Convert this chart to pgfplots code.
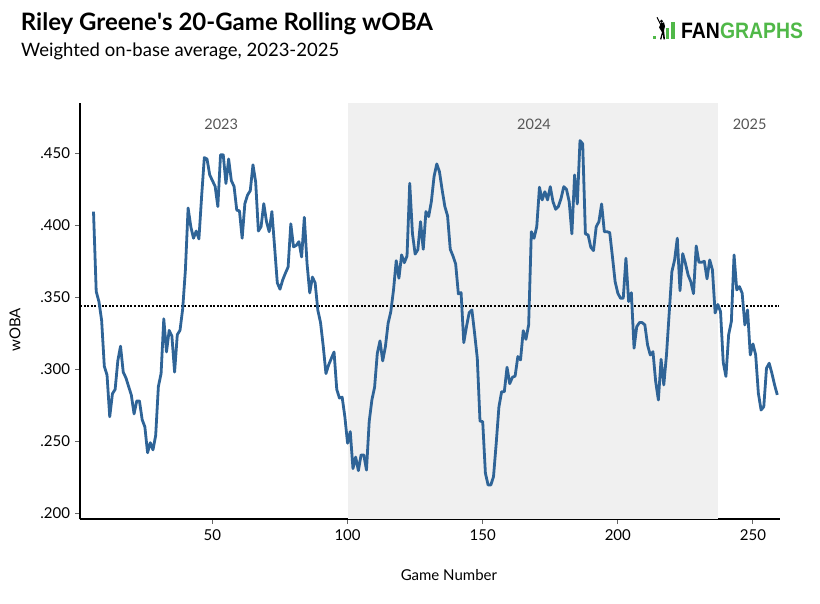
\documentclass[border=0pt]{standalone}
\usepackage{fontspec}
\setmainfont{Lato}
\newfontfamily\logofont{Liberation Sans}
\usepackage{pgfplots}
\pgfplotsset{compat=1.18}
\definecolor{wline}{HTML}{2F6497}
\definecolor{shade}{HTML}{F0F0F0}
\definecolor{fggreen}{HTML}{50B848}
\definecolor{yeargray}{HTML}{555555}
\begin{document}
\begin{tikzpicture}
\useasboundingbox (-80pt,-84.7pt) rectangle (740pt,519.3pt);
\begin{axis}[
  at={(0pt,0pt)}, anchor=south west, scale only axis,
  width=700pt, height=416pt,
  xmin=1, xmax=260, ymin=0.1958, ymax=0.4847,
  axis x line=bottom, axis y line=left,
  axis line style={-, line width=1.6pt, black},
  xtick={50,100,150,200,250},
  xticklabels={50,100,150,200,250},
  ytick={0.2,0.25,0.3,0.35,0.4,0.45},
  yticklabels={.200,.250,.300,.350,.400,.450},
  tick align=outside, major tick length=4.5pt,
  tick style={line width=1pt, color=black!60},
  ticklabel style={font=\fontsize{15}{18}\selectfont, text=black},
  /pgf/number format/assume math mode=true,
  xticklabel style={yshift=-2pt},
  yticklabel style={xshift=-2pt},
  xlabel={Game Number}, ylabel={wOBA},
  every axis x label/.style={at={(axis description cs:0.527,-0.134)}, anchor=center, font=\fontsize{15}{18}\selectfont},
  every axis y label/.style={at={(axis description cs:-0.0929,0.455)}, rotate=90, anchor=center, font=\fontsize{15}{18}\selectfont},
]
\addplot[fill=shade, draw=none] coordinates {(100.2,0.1958) (237.1,0.1958) (237.1,0.4847) (100.2,0.4847)} -- cycle;
\addplot[black, line width=2pt, dash pattern=on 2pt off 1.6pt] coordinates {(1,0.3442) (259.5,0.3442)};
\addplot[wline, line width=2.8pt, line join=round] table {
6 .4095
7 .354
8 .347
9 .334
10 .302
11 .296
12 .267
13 .283
14 .286
15 .306
16 .316
17 .298
18 .294
19 .288
20 .282
21 .269
22 .278
23 .278
24 .265
25 .260
26 .242
27 .249
28 .244
29 .254
30 .288
31 .297
32 .335
33 .312
34 .327
35 .323
36 .298
37 .324
38 .327
39 .342
40 .369
41 .412
42 .399
43 .391
44 .396
45 .3905
46 .420
47 .447
48 .446
49 .435
50 .431
51 .427
52 .413
53 .449
54 .449
55 .429
56 .446
57 .431
58 .427
59 .4105
60 .410
61 .391
62 .415
63 .421
64 .424
65 .442
66 .430
67 .396
68 .399
69 .415
70 .4025
71 .3955
72 .4095
73 .385
74 .360
75 .3556
76 .362
77 .3667
78 .371
79 .401
80 .385
81 .386
82 .3886
83 .378
84 .4055
85 .3736
86 .353
87 .364
88 .360
89 .341
90 .3324
91 .316
92 .297
93 .303
94 .3076
95 .312
96 .286
97 .280
98 .2806
99 .267
100 .2486
101 .2567
102 .231
103 .239
104 .2296
105 .2405
106 .2405
107 .230
108 .2636
109 .2787
110 .2875
111 .311
112 .3197
113 .3058
114 .3157
115 .3319
116 .340
117 .355
118 .3754
119 .3632
120 .3794
121 .374
122 .3787
123 .4292
124 .3944
125 .380
126 .383
127 .4025
128 .3833
129 .4095
130 .406
131 .4164
132 .4338
133 .4426
134 .4372
135 .4245
136 .413
137 .4065
138 .3833
139 .3787
140 .3731
141 .3523
142 .3532
143 .3185
144 .3296
145 .3393
146 .3412
147 .3250
148 .3076
149 .264
150 .2636
151 .2278
152 .2196
153 .2196
154 .2254
155 .2486
156 .2738
157 .2844
158 .2844
159 .3014
160 .290
161 .2944
162 .2953
163 .3088
164 .3065
165 .3268
166 .3208
167 .3308
168 .3955
169 .391
170 .399
171 .4264
172 .4176
173 .4233
174 .4176
175 .4268
176 .4164
177 .4111
178 .413
179 .4187
180 .4268
181 .425
182 .4164
183 .394
184 .4349
185 .4148
186 .4588
187 .4565
188 .394
189 .3933
190 .3847
191 .3824
192 .399
193 .4025
194 .4148
195 .3955
196 .3955
197 .3949
198 .3782
199 .3608
200 .3528
201 .3493
202 .3493
203 .3771
204 .347
205 .3532
206 .3146
207 .3296
208 .3324
209 .3324
210 .3308
211 .3169
212 .3099
213 .3122
214 .2914
215 .2787
216 .3069
217 .2891
218 .3099
219 .3389
220 .3678
221 .3759
222 .391
223 .3546
224 .3803
225 .3736
226 .3655
227 .3608
228 .3525
229 .3856
230 .3743
231 .3743
232 .375
233 .3628
234 .3759
235 .369
236 .3391
237 .345
238 .340
239 .3047
240 .295
241 .324
242 .3331
243 .3794
244 .3551
245 .3574
246 .3528
247 .3308
248 .3412
249 .3099
250 .3176
251 .3099
252 .2833
253 .2717
254 .274
255 .3007
256 .3042
257 .2972
258 .2891
259 .2822
};
\node[text=yeargray, font=\fontsize{14.5}{17}\selectfont] at (axis cs:53.25,0.4703) {2023};
\node[text=yeargray, font=\fontsize{14.5}{17}\selectfont] at (axis cs:169,0.4703) {2024};
\node[text=yeargray, font=\fontsize{14.5}{17}\selectfont] at (axis cs:248.75,0.4703) {2025};
\end{axis}
% titles
\node[anchor=base west, inner sep=0pt] at (-59.3pt,488.6pt) {\fontsize{24}{28}\selectfont\bfseries Riley Greene\textquotesingle s 20-Game Rolling wOBA};
\node[anchor=base west, inner sep=0pt] at (-59pt,462.6pt) {\fontsize{18.5}{22}\selectfont Weighted on-base average, 2023-2025};
% logo
\fill[fggreen] (573.3pt,480pt) rectangle (576pt,483.3pt);
\fill[fggreen] (586pt,480pt) rectangle (589pt,491pt);
\fill[fggreen] (591pt,480pt) rectangle (595pt,497pt);
\fill[black] (580pt,480pt) -- (582pt,487pt) -- (579pt,492pt) -- (581pt,496pt) -- (584pt,497pt) -- (585pt,493pt) -- (584pt,489pt) -- (585pt,480pt) -- (583.5pt,480pt) -- (582.5pt,486pt) -- (581.5pt,480pt) -- cycle;
\draw[black, line width=1pt] (581pt,494pt) -- (577pt,502pt);
\fill[black] (581.5pt,498pt) circle (1.6pt);
\node[anchor=base west, inner sep=0pt] at (601pt,480.3pt) {\scalebox{0.87}[1]{\logofont\fontsize{22.3}{24}\selectfont\bfseries FAN\textcolor{fggreen}{GRAPHS}}};
\end{tikzpicture}
\end{document}
